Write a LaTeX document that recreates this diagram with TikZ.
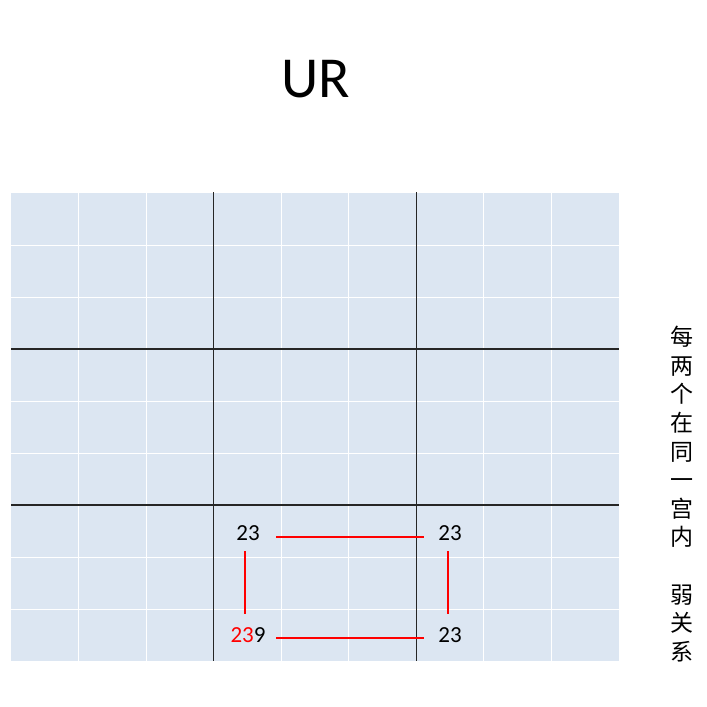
\documentclass[tikz,border=0pt]{standalone}
\usepackage{fontspec}
\setmainfont{Carlito}
\newfontfamily\cjk{Noto Sans CJK SC}
\definecolor{cellblue}{HTML}{DCE6F2}
\definecolor{gridline}{HTML}{262626}
\begin{document}
\begin{tikzpicture}[x=1pt,y=-1pt,
  thinline/.style={white,line width=1pt},
  boxline/.style={gridline,line width=1.1pt},
  relline/.style={red,line width=1.5pt},
  digit/.style={font=\fontsize{23}{26}\selectfont,inner sep=0pt,anchor=center}]
\useasboundingbox[fill=white] (0,0) rectangle (707,707);
% title
\node[font=\fontsize{58}{60}\selectfont,inner sep=0pt] (title) at (316,79) {UR};
% grid background
\fill[cellblue] (11,193) rectangle (619,661);
\foreach \i in {1,2,4,5,7,8}{
  \draw[thinline] ({11+\i*67.56},193) -- ({11+\i*67.56},661);
  \draw[thinline] (11,{193+\i*52}) -- (619,{193+\i*52});
}
\foreach \i in {3,6}{
  \draw[boxline] ({11+\i*67.56},192) -- ({11+\i*67.56},661);
  \draw[boxline] (11,{193+\i*52}) -- (619,{193+\i*52});
}
% numbers
\node[digit] (a) at (248,533) {23};
\node[digit] (b) at (450,533) {23};
\node[digit] (c) at (248,635) {\textcolor{red}{23}9};
\node[digit] (d) at (450,635) {23};
% relation lines
\coordinate (ae) at (276,537);
\coordinate (bw) at (424,537);
\coordinate (ce) at (276,638);
\coordinate (dw) at (424,638);
\coordinate (as) at (245,551);
\coordinate (cn) at (245,614);
\coordinate (bs) at (448,551);
\coordinate (dn) at (448,614);
\draw[relline] (ae) -- (bw);
\draw[relline] (ce) -- (dw);
\draw[relline] (as) -- (cn);
\draw[relline] (bs) -- (dn);
% vertical note
\node[font=\cjk\fontsize{23}{28.6}\selectfont,align=center,inner sep=0pt,anchor=north] (note) at (682,326)
  {每\\两\\个\\在\\同\\一\\宫\\内\\\strut\\弱\\关\\系};
\end{tikzpicture}
\end{document}
